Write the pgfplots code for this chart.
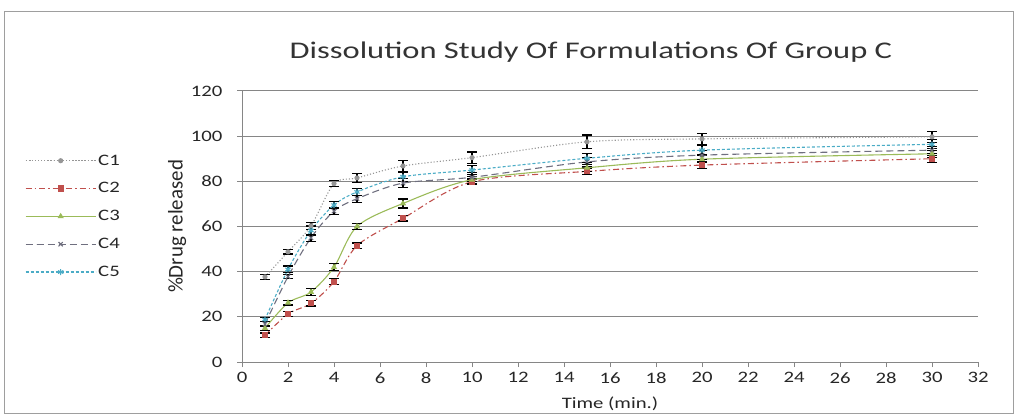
\documentclass[border=0pt]{standalone}
\usepackage{fontspec}
\setmainfont{Carlito}
\usepackage{graphicx}
\usepackage{pgfplots}
\pgfplotsset{compat=1.18}
\definecolor{cA}{HTML}{969696}
\definecolor{cB}{HTML}{C0504D}
\definecolor{cC}{HTML}{9BBB59}
\definecolor{cD}{HTML}{6F6F7F}
\definecolor{cE}{HTML}{4BACC6}
\definecolor{gridc}{HTML}{868686}
\newcommand\sx[1]{\scalebox{1.3}[1]{#1}}
\begin{document}
\begin{tikzpicture}[x=1bp,y=1bp]
\useasboundingbox (0,0) rectangle (1016,416);
\draw[gridc!80,line width=1bp] (4,3) rectangle (1013,404);
\node[anchor=base,font=\fontsize{24}{27}\selectfont,text=black!80] at (591,358) {\scalebox{1.36}[1]{Dissolution Study Of Formulations Of Group C}};
\begin{axis}[
  at={(242bp,54bp)}, anchor=south west,
  scale only axis, width=736bp, height=271bp,
  xmin=0, xmax=32, ymin=0, ymax=120,
  xtick={0,2,...,32}, ytick={0,20,...,120},
  axis x line*=bottom, axis y line*=left,
  axis line style={gridc, line width=1bp},
  tick align=outside, major tick length=5bp,
  tick style={gridc, line width=1bp},
  ymajorgrids, grid style={gridc, line width=1bp},
  xticklabel={\sx{\pgfmathprintnumber[assume math mode=true]{\tick}}},
  yticklabel={\sx{\pgfmathprintnumber[assume math mode=true]{\tick}}},
  ticklabel style={font=\fontsize{16}{18}\selectfont, text=black!85},
  yticklabel style={xshift=-11bp},
  xticklabel style={yshift=-2bp},
  xlabel={\sx{Time (min.)}},
  xlabel style={font=\fontsize{16}{18}\selectfont, text=black!85, yshift=-6bp},
  ylabel={\%Drug released},
  ylabel style={font=\fontsize{21}{23}\selectfont, text=black!85, yshift=-2bp},
  legend style={at={(-0.299,0.78)}, anchor=north west, draw=none, fill=none,
    font=\fontsize{16}{18}\selectfont, row sep=12bp, text=black!85},
  legend cell align=left,
  legend image code/.code={\draw[mark repeat=2,mark phase=2,#1] plot coordinates {(0bp,0bp) (35bp,0bp) (70bp,0bp)};},
  every axis plot/.append style={line width=1.1bp, smooth, tension=0.5},
  error bars/error bar style={black, line width=1.2bp, solid},
  error bars/error mark options={black, rotate=90, mark size=5bp, line width=1.2bp, solid},
]
\addplot[cA, dotted, mark=*, mark size=2bp, mark options={solid, fill=cA},
  error bars/.cd, y dir=both, y explicit] coordinates {
  (1,37.7) +- (0,1) (2,48.8) +- (0,1) (3,60.3) +- (0,1.5) (4,79) +- (0,1.2)
  (5,81.5) +- (0,2) (7,86.8) +- (0,2.5) (10,90.5) +- (0,2.5) (15,97.5) +- (0,3)
  (20,98.8) +- (0,2.5) (30,99.7) +- (0,2.5)};
\addlegendentry{\sx{C1}}
\addplot[cB, dash pattern=on 6bp off 3bp on 1.5bp off 3bp, mark=square*, mark size=2.5bp, mark options={solid, fill=cB},
  error bars/.cd, y dir=both, y explicit] coordinates {
  (1,11.8) +- (0,1) (2,21.3) +- (0,1) (3,26) +- (0,1.2) (4,35.6) +- (0,1.2)
  (5,51.5) +- (0,1.2) (7,63.6) +- (0,1.2) (10,79.8) +- (0,1.2) (15,84.4) +- (0,1.5)
  (20,87.2) +- (0,1.5) (30,90) +- (0,1.5)};
\addlegendentry{\sx{C2}}
\addplot[cC, solid, mark=triangle*, mark size=2.5bp, mark options={solid, fill=cC},
  error bars/.cd, y dir=both, y explicit] coordinates {
  (1,15) +- (0,1) (2,26.2) +- (0,1) (3,31) +- (0,1.5) (4,42) +- (0,1.5)
  (5,60) +- (0,1.5) (7,70.2) +- (0,2) (10,80.7) +- (0,1.5) (15,86) +- (0,1.5)
  (20,89.8) +- (0,1.5) (30,92.2) +- (0,1.5)};
\addlegendentry{\sx{C3}}
\addplot[cD, dash pattern=on 7bp off 4bp, mark=x, mark size=3bp, mark options={solid},
  error bars/.cd, y dir=both, y explicit] coordinates {
  (1,16.8) +- (0,1) (2,37.8) +- (0,1) (3,55) +- (0,1.5) (4,66.8) +- (0,1.5)
  (5,72.3) +- (0,1.5) (7,79.2) +- (0,2) (10,81.8) +- (0,2) (15,88.6) +- (0,2)
  (20,91.6) +- (0,2) (30,93.8) +- (0,1.5)};
\addlegendentry{\sx{C4}}
\addplot[cE, dash pattern=on 3bp off 2bp, mark=asterisk, mark size=3bp, mark options={solid},
  error bars/.cd, y dir=both, y explicit] coordinates {
  (1,18.8) +- (0,1) (2,41) +- (0,1.5) (3,58.2) +- (0,2) (4,69.5) +- (0,1.5)
  (5,75.3) +- (0,1.5) (7,82) +- (0,2) (10,85) +- (0,2) (15,90.2) +- (0,2)
  (20,93.8) +- (0,2) (30,96.4) +- (0,2)};
\addlegendentry{\sx{C5}}
\end{axis}
\end{tikzpicture}
\end{document}
